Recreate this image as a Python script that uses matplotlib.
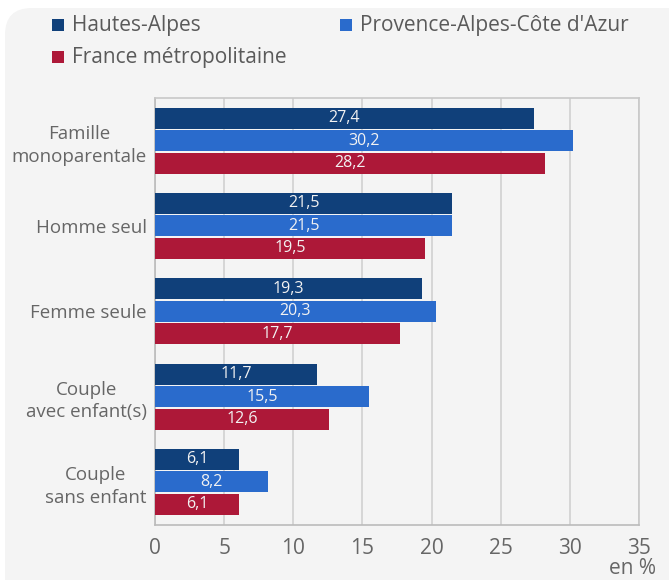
import matplotlib
matplotlib.use("Agg")
import matplotlib.pyplot as plt
from matplotlib.patches import FancyBboxPatch, Rectangle
import numpy as np

plt.rcParams['font.family'] = ['Open Sans', 'DejaVu Sans']

categories = ["Famille\nmonoparentale", "Homme seul", "Femme seule",
              "Couple\navec enfant(s)", "Couple\nsans enfant"]
series_names = ["Hautes-Alpes", "Provence-Alpes-Côte d'Azur", "France métropolitaine"]
hautes_alpes = [27.4, 21.5, 19.3, 11.7, 6.1]
paca = [30.2, 21.5, 20.3, 15.5, 8.2]
france = [28.2, 19.5, 17.7, 12.6, 6.1]
xticks = [0, 5, 10, 15, 20, 25, 30, 35]

colors = ["#10407a", "#2a6bcc", "#ad1838"]
text_color = "#666666"
panel_color = "#f4f4f4"

W, H = 669, 583
fig = plt.figure(figsize=(W / 100, H / 100), dpi=100)
fig.patch.set_facecolor("white")

# background panel with rounded top corners
panel = FancyBboxPatch((5 / W, 3 / H), (W - 5 + 30) / W, (H - 8 - 3) / H,
                       boxstyle="round,pad=0,rounding_size=0.04",
                       transform=fig.transFigure, facecolor=panel_color,
                       edgecolor="none", zorder=-2, mutation_aspect=W / H)
fig.patches.append(panel)
fig.patches.append(Rectangle((5 / W, 3 / H), 1, 0.3, transform=fig.transFigure,
                             facecolor=panel_color, edgecolor="none", zorder=-2))

ax = fig.add_axes([155 / W, 1 - 524.5 / H, (639 - 155) / W, (524.5 - 98) / H])
ax.set_zorder(1)
ax.set_facecolor(panel_color)

y = np.arange(len(categories))
step = 0.264
bh = 0.246
for i, (vals, col) in enumerate(zip([hautes_alpes, paca, france], colors)):
    pos = y + (i - 1) * step
    bars = ax.barh(pos, vals, height=bh, color=col, zorder=3)
    for b, v in zip(bars, vals):
        ax.text(v / 2, b.get_y() + b.get_height() / 2, f"{v:.1f}".replace(".", ","),
                ha="center", va="center", color="#f2f2f2", fontsize=11.5, zorder=4)

ax.set_xlim(0, 35)
ax.set_ylim(len(categories) - 0.5, -0.5)
ax.set_xticks(xticks)
ax.set_xticklabels([str(t) for t in xticks], fontsize=15, color=text_color)
ax.set_yticks(y)
ax.set_yticklabels(categories, fontsize=13.5, color=text_color, linespacing=1.35,
                   ha="right", multialignment="center")
ax.tick_params(axis="both", length=0)
ax.tick_params(axis="x", pad=9.5)
ax.tick_params(axis="y", pad=6)
ax.grid(axis="x", color="#d0d0d0", linewidth=1.2, zorder=1)
for s in ax.spines.values():
    s.set_color("#c8c8c8")
    s.set_linewidth(1.2)
ax.spines["left"].set_color("#bbbbbb")
ax.spines["bottom"].set_color("#bbbbbb")

fig.text(656 / W, 1 - 568.5 / H, "en %", ha="right", va="center",
         fontsize=15, color=text_color, zorder=3)

# legend
leg_pos = [(52, 25), (340, 25), (52, 57)]
for (lx, ly), name, col in zip(leg_pos, series_names, colors):
    fig.patches.append(Rectangle((lx / W, 1 - (ly + 6) / H), 12 / W, 12 / H,
                                 transform=fig.transFigure, facecolor=col,
                                 edgecolor="none", zorder=3))
    fig.text((lx + 20) / W, 1 - ly / H, name, ha="left", va="center",
             fontsize=15, color="#5a5a5a", zorder=3)

fig.savefig("out.png", dpi=100, facecolor="white")
